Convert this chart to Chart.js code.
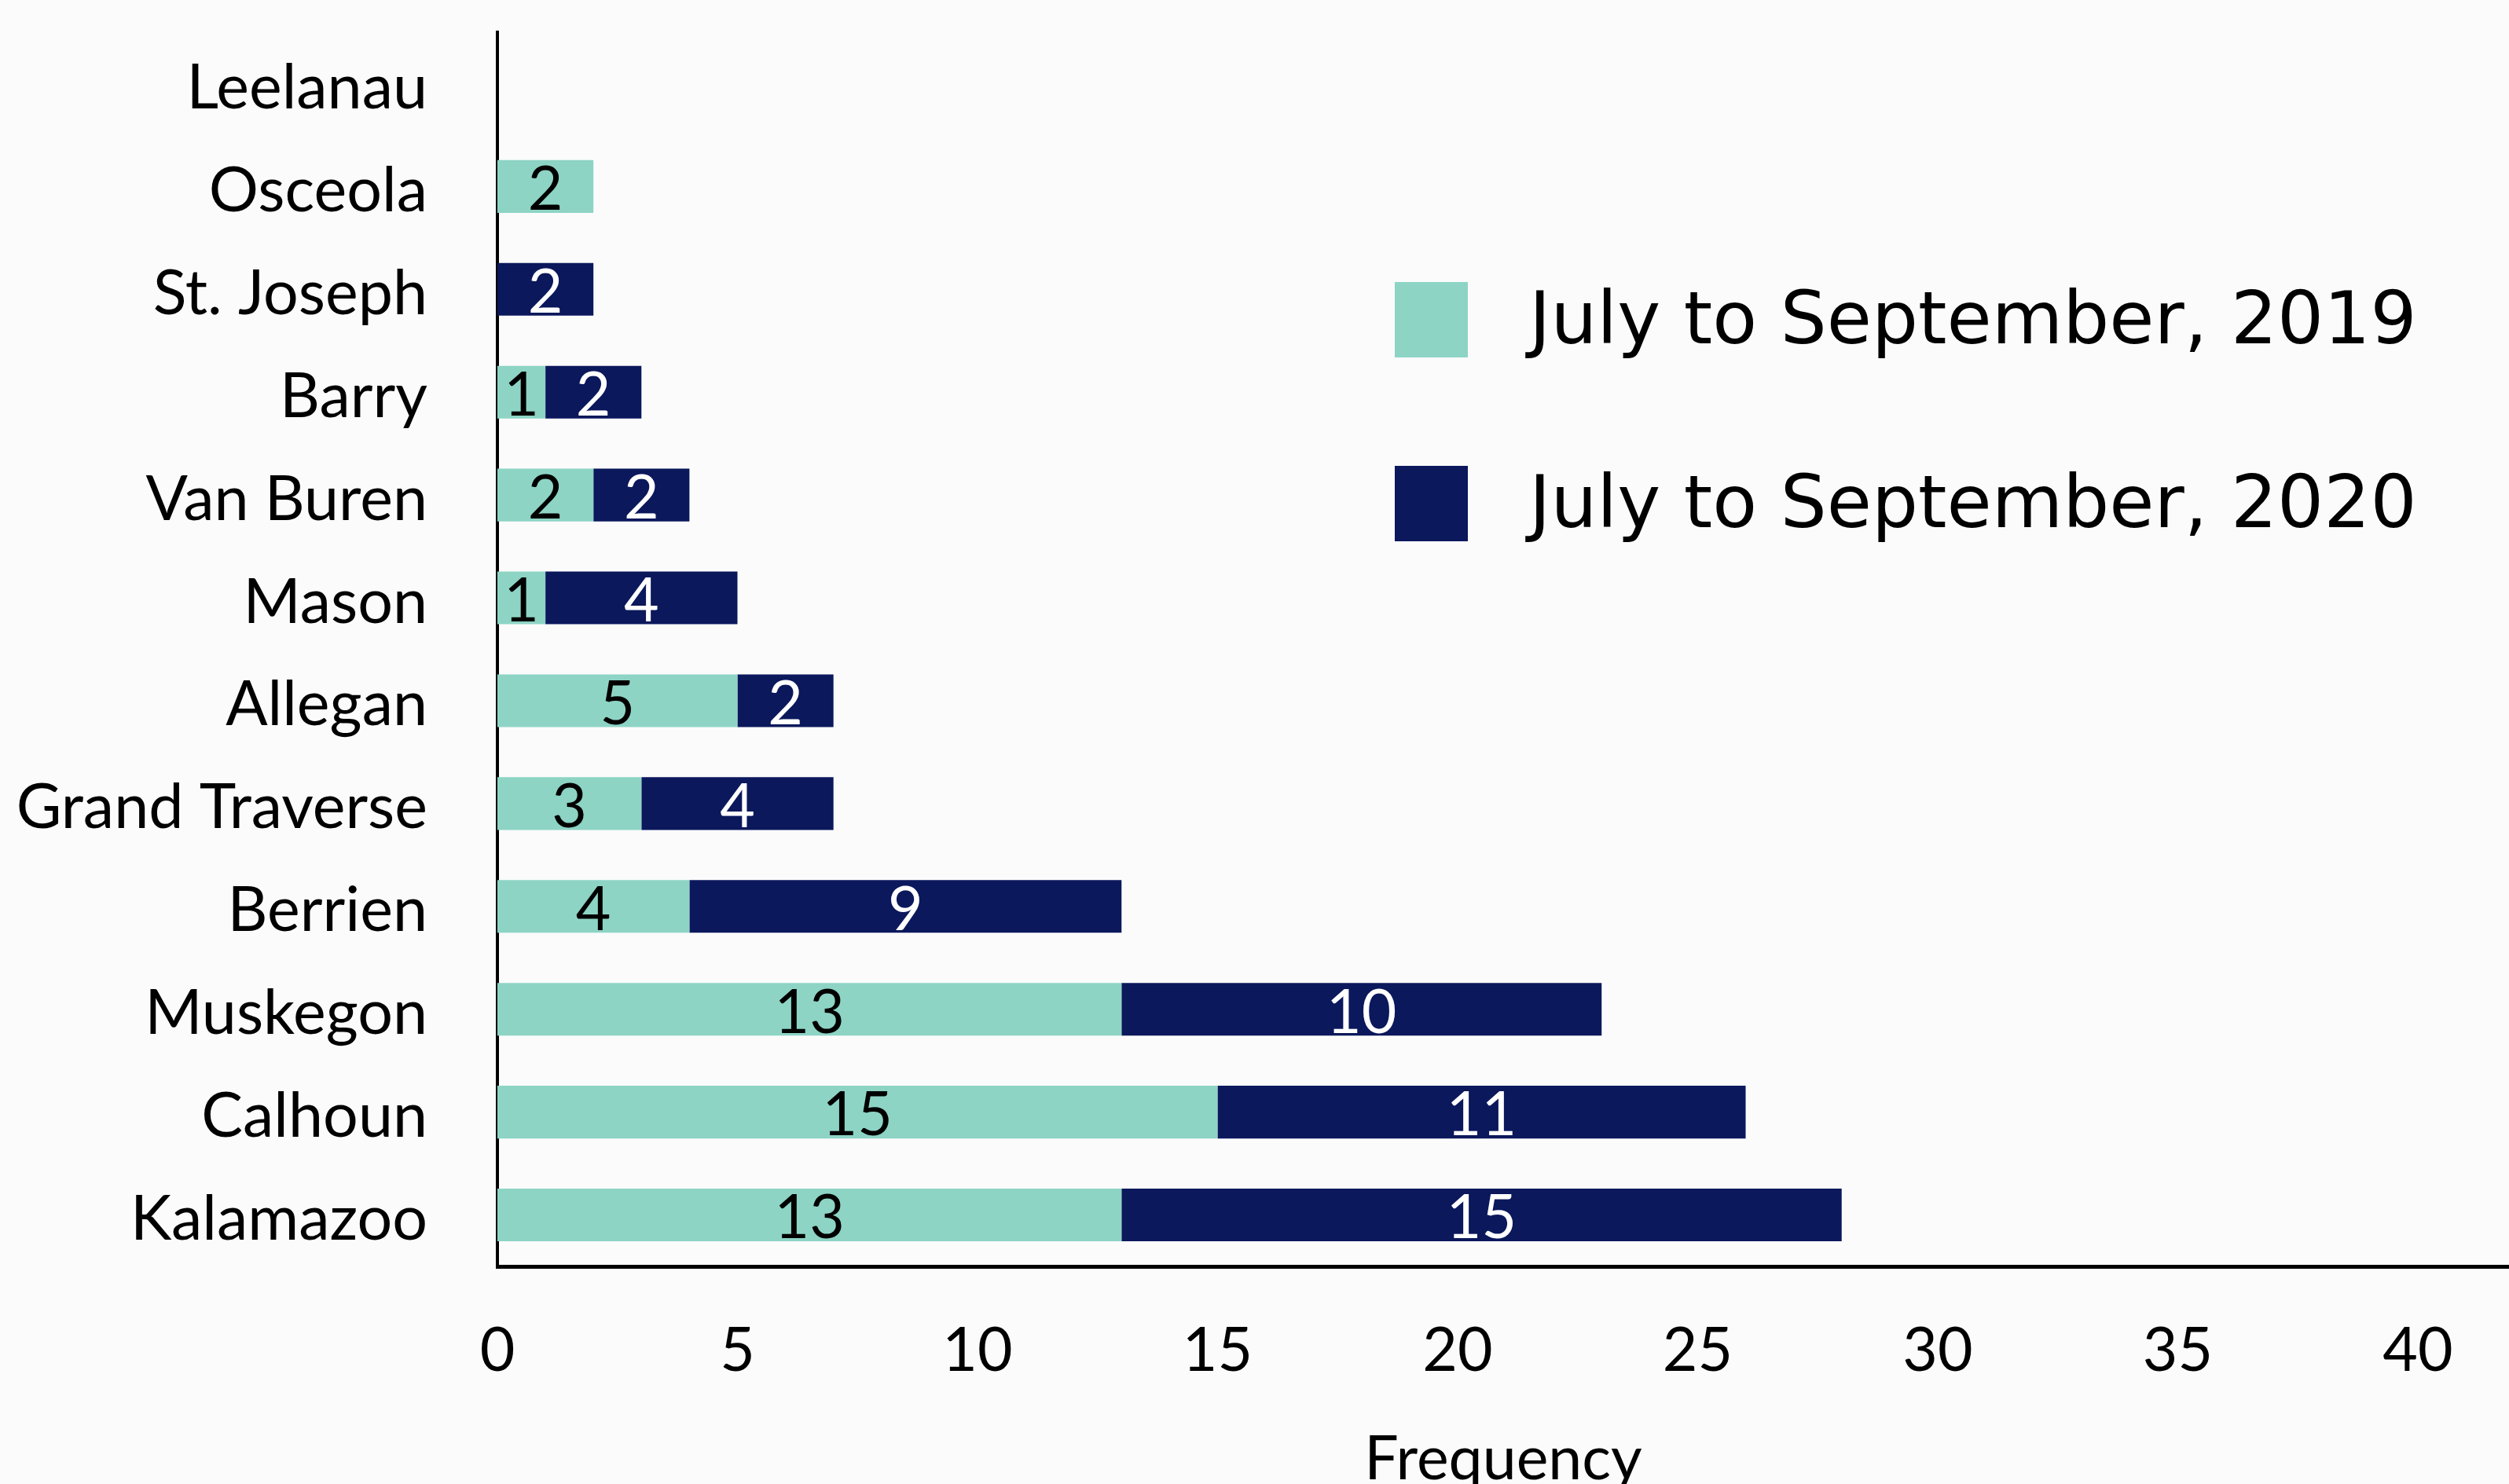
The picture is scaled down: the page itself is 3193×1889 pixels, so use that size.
<!DOCTYPE html>
<html>
<head>
<meta charset="utf-8">
<script src="https://cdn.jsdelivr.net/npm/chart.js@4.4.1/dist/chart.umd.min.js"></script>
<style>
html, body { margin: 0; padding: 0; background: #fbfbfb; }
canvas { display: block; }
</style>
</head>
<body>
<canvas id="countyChart" width="3193" height="1889"></canvas>
<script>
// data
const counties = ['Leelanau', 'Osceola', 'St. Joseph', 'Barry', 'Van Buren', 'Mason', 'Allegan', 'Grand Traverse', 'Berrien', 'Muskegon', 'Calhoun', 'Kalamazoo'];
const counts2019 = [0, 2, 0, 1, 2, 1, 5, 3, 4, 13, 15, 13];
const counts2020 = [0, 0, 2, 2, 2, 4, 2, 4, 9, 10, 11, 15];
const seriesNames = ['July to September, 2019', 'July to September, 2020'];
const seriesColors = ['#8dd4c5', '#0b185c'];
const xTicks = [0, 5, 10, 15, 20, 25, 30, 35, 40];
const xTitle = 'Frequency';

// numbers inside the bar segments
const barLabels = {
    id: 'barLabels',
    afterDatasetsDraw(chart) {
        const ctx = chart.ctx;
        ctx.save();
        ctx.font = '77px Lato';
        ctx.textAlign = 'center';
        ctx.textBaseline = 'middle';
        chart.data.datasets.forEach((ds, i) => {
            chart.getDatasetMeta(i).data.forEach((bar, j) => {
                const v = ds.data[j];
                if (!v) return;
                ctx.fillStyle = i === 0 ? '#000000' : '#ffffff';
                ctx.fillText(v, (bar.x + bar.base) / 2, bar.y + 5);
            });
        });
        ctx.restore();
    }
};

// legend drawn inside the plot, square swatches
const boxLegend = {
    id: 'boxLegend',
    afterDraw(chart) {
        const ctx = chart.ctx;
        ctx.save();
        ctx.font = '93px "DejaVu Sans"';
        ctx.textBaseline = 'alphabetic';
        chart.data.datasets.forEach((ds, i) => {
            const top = 359 + i * 234;
            ctx.fillStyle = ds.backgroundColor;
            ctx.fillRect(1775, top, 93, 96);
            ctx.fillStyle = '#000000';
            ctx.fillText(ds.label, 1946, top + 78);
        });
        ctx.restore();
    }
};

const countyChartData = {
    labels: counties,
    datasets: [
        { label: seriesNames[0], data: counts2019, backgroundColor: seriesColors[0] },
        { label: seriesNames[1], data: counts2020, backgroundColor: seriesColors[1] }
    ]
};

const countyChartOptions = {
    indexAxis: 'y',
    responsive: false,
    animation: false,
    devicePixelRatio: 1,
    layout: { padding: { top: 41, left: 0, right: 0, bottom: 0 } },
    datasets: { bar: { categoryPercentage: 1, barPercentage: 0.512, borderWidth: 0 } },
    plugins: {
        legend: { display: false },
        tooltip: { enabled: false }
    },
    scales: {
        x: {
            stacked: true,
            min: 0,
            max: 41.9,
            afterBuildTicks: s => { s.ticks = xTicks.map(v => ({ value: v })); },
            afterFit: s => { s.height = 277; s.paddingLeft = 0; s.paddingRight = 0; },
            grid: { display: false, drawTicks: false },
            border: { display: true, color: '#000000', width: 5 },
            ticks: { padding: 62, color: '#000000', font: { family: 'Lato', size: 77 }, maxRotation: 0, autoSkip: false },
            title: { display: true, text: xTitle, color: '#000000', font: { family: 'Lato', size: 77 }, padding: { top: 0, bottom: -15 } }
        },
        y: {
            stacked: true,
            afterFit: s => { s.width = 633; s.paddingTop = 0; s.paddingBottom = 0; },
            grid: { display: false, drawTicks: false },
            border: { display: true, color: '#000000', width: 4 },
            ticks: { padding: 89, labelOffset: 6, color: '#000000', font: { family: 'Lato', size: 79 }, autoSkip: false }
        }
    }
};

const countyChart = new Chart(document.getElementById('countyChart'), {
    type: 'bar',
    data: countyChartData,
    options: countyChartOptions,
    plugins: [barLabels, boxLegend]
});
</script>
</body>
</html>
